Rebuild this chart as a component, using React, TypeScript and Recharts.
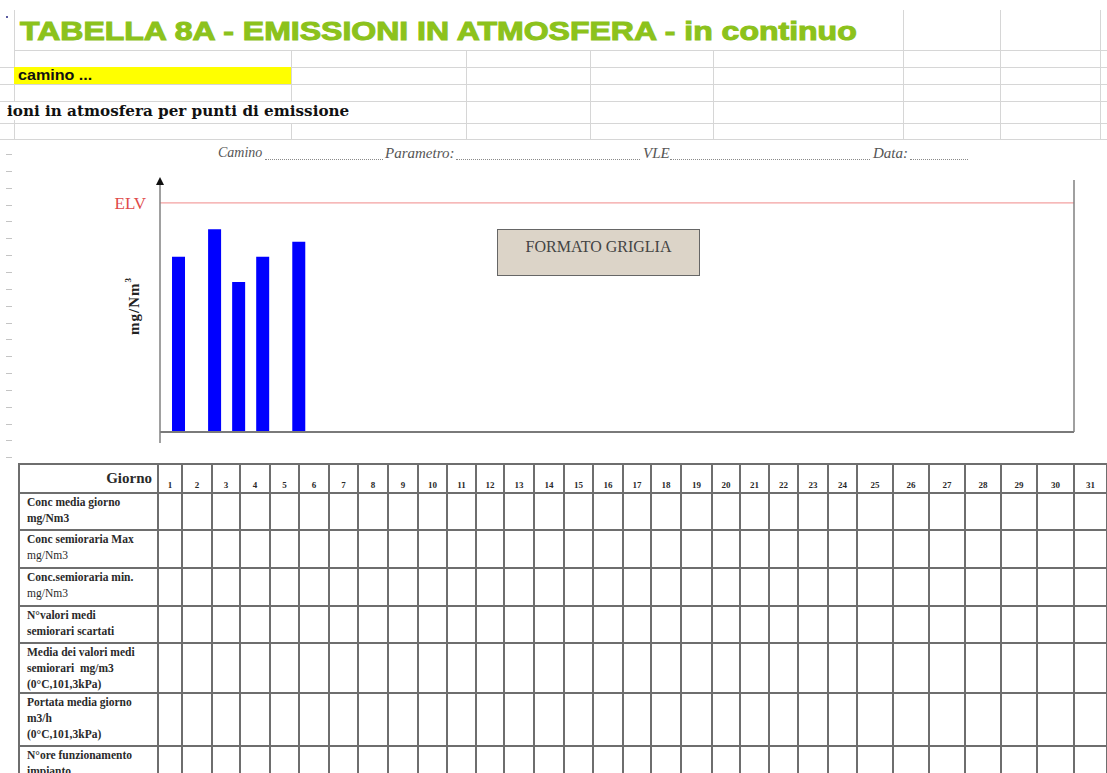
import React from "react";
import { BarChart, Bar, XAxis, YAxis, ReferenceLine } from "recharts";

// bar positions along the day strip and their values (mg/Nm3)
const barDays = [1.5, 4.5, 6.5, 8.5, 11.5];
const barValues = [76.5, 88.5, 65.5, 76.5, 83];
const elvValue = 100;

const days = [
  "1", "2", "3", "4", "5", "6", "7", "8", "9", "10", "11", "12", "13", "14", "15", "16",
  "17", "18", "19", "20", "21", "22", "23", "24", "25", "26", "27", "28", "29", "30", "31",
];

const rowLabels: { lines: string[]; light?: number[] }[] = [
  { lines: ["Conc media giorno", "mg/Nm3"] },
  { lines: ["Conc semioraria Max", "mg/Nm3"], light: [1] },
  { lines: ["Conc.semioraria min.", "mg/Nm3"], light: [1] },
  { lines: ["N°valori medi", "semiorari scartati"] },
  { lines: ["Media dei valori medi", "semiorari  mg/m3", "(0°C,101,3kPa)"] },
  { lines: ["Portata media giorno", "m3/h", "(0°C,101,3kPa)"] },
  { lines: ["N°ore funzionamento", "impianto"] },
];

// table layout
const colWidths = [
  24, 30, 28, 30, 29, 30, 29, 30, 30, 29, 29, 28, 30, 30, 29, 30, 28, 30, 31, 28, 29, 29, 30, 29,
  36, 36, 36, 36, 36, 37, 33,
];
const rowHeights = [37, 38, 38, 37, 49, 53, 45];

const chartData = barDays.map((x, i) => ({ x, v: barValues[i] }));

const serif = "'Liberation Serif', 'Times New Roman', serif";
const sans = "'Liberation Sans', Arial, sans-serif";
const grid = "#d6d6d6";
const cellBorder = "2px solid #6e6e6e";

function YDecor(props: any) {
  const vb = props.viewBox || {};
  const x = (vb.x || 0) + (vb.width || 0);
  const y = vb.y || 0;
  const h = vb.height || 0;
  const cy = y + h / 2;
  const lx = x - 26;
  return (
    <g>
      <polygon points={`${x - 4},${y + 5} ${x + 4},${y + 5} ${x},${y - 3}`} fill="#111" />
      <line x1={x} x2={x} y1={y + h} y2={y + h + 11} stroke="#808080" strokeWidth={1.5} />
      <text
        x={lx}
        y={cy}
        transform={`rotate(-90, ${lx}, ${cy})`}
        textAnchor="middle"
        dominantBaseline="central"
        fontFamily={serif}
        fontWeight="bold"
        fontSize={15}
        letterSpacing={1}
        fill="#222"
      >
        mg/Nm<tspan dy={-6} fontSize={9}>3</tspan>
      </text>
    </g>
  );
}

function Line(p: { x: number; y: number; w: number; h: number; c?: string }) {
  return (
    <div
      style={{ position: "absolute", left: p.x, top: p.y, width: p.w, height: p.h, background: p.c || grid }}
    />
  );
}

export default function App() {
  const hLines = [50, 67, 84, 101, 123, 139];
  return (
    <div
      style={{
        position: "fixed",
        left: 0,
        top: 0,
        width: 1107,
        height: 773,
        overflow: "hidden",
        background: "#fff",
        fontFamily: serif,
      }}
    >
      {/* spreadsheet grid */}
      {hLines.map((y) => (
        <Line key={y} x={y === 50 ? 14 : 0} y={y} w={1107} h={1} />
      ))}
      <Line x={14} y={10} w={1} h={130} />
      <Line x={291} y={50} w={1} h={51} />
      <Line x={291} y={123} w={1} h={16} />
      {[466, 590, 713].map((x) => (
        <Line key={x} x={x} y={50} w={1} h={89} />
      ))}
      {[903, 1000, 1100].map((x) => (
        <Line key={x} x={x} y={10} w={1} h={129} />
      ))}
      <Line x={6} y={16} w={2} h={2} c="#5a5aa0" />

      <div
        style={{
          position: "absolute",
          left: 20,
          top: 16,
          fontFamily: sans,
          fontWeight: "bold",
          fontSize: 25,
          lineHeight: "30px",
          color: "#8cc21c",
          whiteSpace: "nowrap",
          transform: "scaleX(1.28)",
          transformOrigin: "left center",
          WebkitTextStroke: "1px #8cc21c",
        }}
      >
        TABELLA 8A - EMISSIONI IN ATMOSFERA - in continuo
      </div>

      <div
        style={{
          position: "absolute",
          left: 14,
          top: 67,
          width: 277,
          height: 17,
          background: "#ffff00",
        }}
      />
      <div
        style={{
          position: "absolute",
          left: 18,
          top: 67,
          fontFamily: sans,
          fontWeight: "bold",
          fontSize: 14,
          lineHeight: "17px",
          color: "#111",
          whiteSpace: "nowrap",
          transform: "scaleX(1.15)",
          transformOrigin: "left center",
        }}
      >
        camino ...
      </div>

      <div
        style={{
          position: "absolute",
          left: 7,
          top: 102,
          fontFamily: "'DejaVu Serif', serif",
          fontWeight: "bold",
          fontSize: 15.2,
          color: "#111",
          whiteSpace: "nowrap",
          background: "#fff",
        }}
      >
        ioni in atmosfera per punti di emissione
      </div>

      {/* chart header */}
      {[
        { t: "Camino", x: 218, s: 14 },
        { t: "Parametro:", x: 385, s: 15 },
        { t: "VLE", x: 643, s: 15 },
        { t: "Data:", x: 873, s: 15 },
      ].map((h) => (
        <div
          key={h.t}
          style={{
            position: "absolute",
            left: h.x,
            top: 145,
            fontStyle: "italic",
            fontSize: h.s,
            color: "#555",
            whiteSpace: "nowrap",
          }}
        >
          {h.t}
        </div>
      ))}
      {[
        [265, 383],
        [456, 640],
        [670, 870],
        [910, 968],
      ].map(([a, b]) => (
        <div
          key={a}
          style={{ position: "absolute", left: a, top: 159, width: b - a, borderBottom: "1px dotted #8a8a8a" }}
        />
      ))}

      {/* row stubs at the left edge */}
      <div
        style={{
          position: "absolute",
          left: 6,
          top: 150,
          width: 6,
          height: 312,
          background:
            "repeating-linear-gradient(to bottom, transparent 0px, transparent 4px, #c4c4c4 4px, #c4c4c4 5px, transparent 5px, transparent 16.85px)",
        }}
      />

      <div style={{ position: "absolute", left: 0, top: 0 }}>
        <BarChart width={1107} height={460} data={chartData} margin={{ top: 180, right: 32, left: 159, bottom: 27 }}>
          <XAxis
            type="number"
            dataKey="x"
            domain={[0, 76]}
            height={1}
            tick={false}
            tickLine={false}
            axisLine={{ stroke: "#7a7a7a", strokeWidth: 2 }}
          />
          <YAxis
            yAxisId="l"
            domain={[0, 110]}
            width={1}
            tick={false}
            tickLine={false}
            axisLine={{ stroke: "#808080", strokeWidth: 1.5 }}
            label={<YDecor />}
          />
          <YAxis
            yAxisId="r"
            orientation="right"
            domain={[0, 110]}
            width={1}
            tick={false}
            tickLine={false}
            axisLine={{ stroke: "#808080", strokeWidth: 1.5 }}
          />
          <ReferenceLine
            yAxisId="l"
            y={elvValue}
            stroke="#f08a8a"
            strokeWidth={1}
            label={{ value: "ELV", position: "left", offset: 14, fill: "#e04a4a", fontSize: 17, fontFamily: serif }}
          />
          <Bar yAxisId="l" dataKey="v" fill="#0000ff" barSize={13} isAnimationActive={false} />
        </BarChart>
      </div>

      <div
        style={{
          position: "absolute",
          left: 497,
          top: 229,
          width: 203,
          height: 47,
          boxSizing: "border-box",
          background: "#dcd4c8",
          border: "1.5px solid #666",
          textAlign: "center",
          fontSize: 16,
          lineHeight: "18px",
          paddingTop: 8,
          color: "#444",
        }}
      >
        FORMATO GRIGLIA
      </div>

      {/* data table */}
      <table
        style={{
          position: "absolute",
          left: 18,
          top: 463,
          width: 1089,
          tableLayout: "fixed",
          borderCollapse: "collapse",
          fontFamily: serif,
          color: "#2a2a2a",
        }}
      >
        <colgroup>
          <col style={{ width: 139 }} />
          {colWidths.map((w, i) => (
            <col key={i} style={{ width: w }} />
          ))}
        </colgroup>
        <tbody>
          <tr style={{ height: 29 }}>
            <td
              style={{
                border: cellBorder,
                textAlign: "right",
                verticalAlign: "top",
                fontWeight: "bold",
                fontSize: 15,
                lineHeight: "18px",
                padding: "4px 5px 0 0",
              }}
            >
              Giorno
            </td>
            {days.map((d) => (
              <td
                key={d}
                style={{
                  border: cellBorder,
                  textAlign: "center",
                  verticalAlign: "bottom",
                  fontWeight: "bold",
                  fontSize: 9,
                  padding: "0 0 2px 0",
                }}
              >
                {d}
              </td>
            ))}
          </tr>
          {rowLabels.map((r, ri) => (
            <tr key={ri} style={{ height: rowHeights[ri] }}>
              <td
                style={{
                  border: cellBorder,
                  verticalAlign: "top",
                  fontSize: 11.5,
                  lineHeight: "16px",
                  padding: "0 0 0 7px",
                  whiteSpace: "pre",
                  overflow: "hidden",
                }}
              >
                {r.lines.map((l, li) => (
                  <div key={li} style={{ fontWeight: r.light && r.light.includes(li) ? "normal" : "bold" }}>
                    {l}
                  </div>
                ))}
              </td>
              {days.map((d) => (
                <td key={d} style={{ border: cellBorder }} />
              ))}
            </tr>
          ))}
        </tbody>
      </table>
    </div>
  );
}
